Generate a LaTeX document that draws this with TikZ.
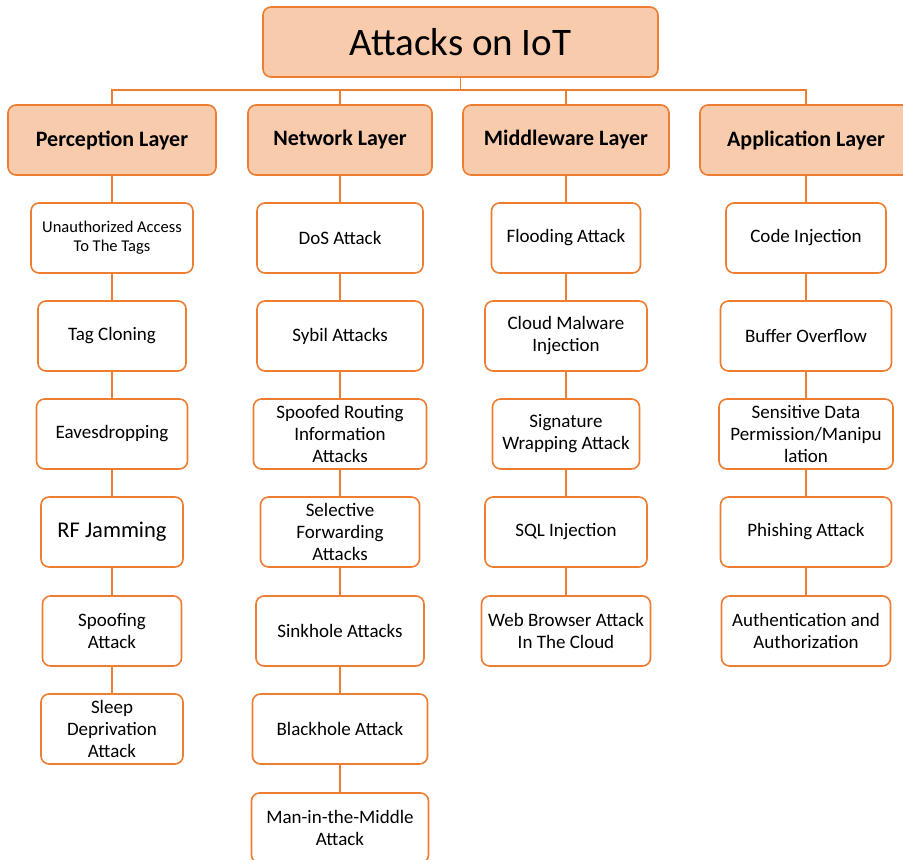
\documentclass[tikz,border=0pt]{standalone}
\usepackage{fontspec}
\setmainfont{Carlito}
\usepackage{xcolor}
\usepackage{tikz}
\usetikzlibrary{positioning}
\definecolor{iotline}{HTML}{ED7D31}
\definecolor{iotfill}{HTML}{F8CBAD}

\begin{document}
\begin{tikzpicture}[x=1pt,y=-1pt,
		rootbox/.style={draw=iotline,fill=iotfill,line width=1.6pt,rounded corners=8pt,minimum width=395pt,minimum height=70pt,font=\fontsize{39}{44}\selectfont},
		layerbox/.style={draw=iotline,fill=iotfill,line width=1.6pt,rounded corners=8pt,minimum height=70pt,font=\fontsize{22}{26}\selectfont\bfseries},
		attbox/.style={draw=iotline,fill=white,line width=1.6pt,rounded corners=8pt,minimum height=70pt,align=center,inner sep=2pt,font=\fontsize{19}{22}\selectfont},
		link/.style={draw=iotline,line width=1.6pt}]
				\useasboundingbox (0,0) rectangle (903,860);
				% top and layers
				\node[rootbox] (root) at (460.5,42) {Attacks on IoT};
				\node[layerbox,minimum width=208pt] (per) at (112,140) {Perception Layer};
				\node[layerbox,minimum width=184pt] (net) at (340,140) {Network Layer};
				\node[layerbox,minimum width=206pt] (mid) at (566,140) {Middleware Layer};
				\node[layerbox,minimum width=212pt] (app) at (806,140) {Application Layer};
				\coordinate (bus) at (460.5,90);
				% perception column
				\node[attbox,minimum width=162pt,font=\fontsize{16.5}{19}\selectfont] (per1) at (112,238) {Unauthorized Access\\To The Tags};
				\node[attbox,minimum width=148pt] (per2) at (112,336) {Tag Cloning};
				\node[attbox,minimum width=151pt] (per3) at (112,434) {Eavesdropping};
				\node[attbox,minimum width=142pt,font=\fontsize{22.5}{26}\selectfont] (per4) at (112,532) {RF Jamming};
				\node[attbox,minimum width=139pt] (per5) at (112,631) {Spoofing\\Attack};
				\node[attbox,minimum width=142pt] (per6) at (112,729) {Sleep\\Deprivation\\Attack};
				% network column
				\node[attbox,minimum width=166pt] (net1) at (340,238) {DoS Attack};
				\node[attbox,minimum width=166pt] (net2) at (340,336) {Sybil Attacks};
				\node[attbox,minimum width=173pt] (net3) at (340,434) {Spoofed Routing\\Information\\Attacks};
				\node[attbox,minimum width=159pt] (net4) at (340,532) {Selective\\Forwarding\\Attacks};
				\node[attbox,minimum width=168pt] (net5) at (340,631) {Sinkhole Attacks};
				\node[attbox,minimum width=175pt] (net6) at (340,729) {Blackhole Attack};
				\node[attbox,minimum width=177pt] (net7) at (340,828) {Man-in-the-Middle\\Attack};
				% middleware column
				\node[attbox,minimum width=149pt] (mid1) at (566,238) {Flooding Attack};
				\node[attbox,minimum width=162pt] (mid2) at (566,336) {Cloud Malware\\Injection};
				\node[attbox,minimum width=147pt] (mid3) at (566,434) {Signature\\Wrapping Attack};
				\node[attbox,minimum width=162pt] (mid4) at (566,532) {SQL Injection};
				\node[attbox,minimum width=169pt] (mid5) at (566,631) {Web Browser Attack\\In The Cloud};
				% application column
				\node[attbox,minimum width=160pt] (app1) at (806,238) {Code Injection};
				\node[attbox,minimum width=171pt] (app2) at (806,336) {Buffer Overflow};
				\node[attbox,minimum width=174pt] (app3) at (806,434) {Sensitive Data\\Permission/Manipu\\lation};
				\node[attbox,minimum width=171pt] (app4) at (806,532) {Phishing Attack};
				\node[attbox,minimum width=169pt] (app5) at (806,631) {Authentication and\\Authorization};
				% connectors
				\draw[link] (root.south) -- (bus);
				\draw[link] (per.north) |- (bus) -| (app.north);
				\draw[link] (net.north) -- (net.north |- bus);
				\draw[link] (mid.north) -- (mid.north |- bus);
				\foreach \a/\b in {per/per1,per1/per2,per2/per3,per3/per4,per4/per5,per5/per6,
					net/net1,net1/net2,net2/net3,net3/net4,net4/net5,net5/net6,net6/net7,
					mid/mid1,mid1/mid2,mid2/mid3,mid3/mid4,mid4/mid5,
					app/app1,app1/app2,app2/app3,app3/app4,app4/app5}
					\draw[link] (\a.south) -- (\b.north);
			\end{tikzpicture}
\end{document}
